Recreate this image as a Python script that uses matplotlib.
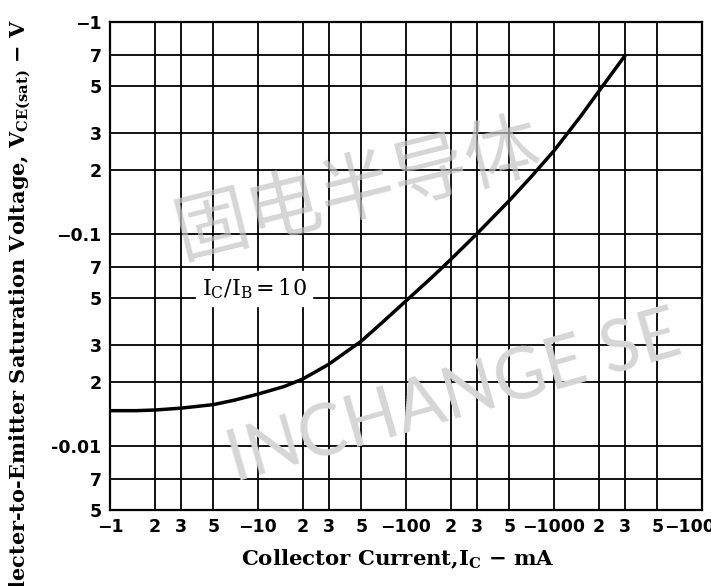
import matplotlib
matplotlib.use("Agg")
import matplotlib.pyplot as plt

# data (collector current in mA, Vce(sat) in V, magnitudes)
ic_ma = [1, 1.5, 2, 3, 5, 7, 10, 15, 20, 30, 50, 70, 100, 150, 200, 300,
         500, 700, 1000, 1500, 2000, 3000]
vce_sat = [0.0147, 0.0147, 0.0148, 0.0151, 0.0157, 0.0165, 0.0176, 0.0191, 0.0207, 0.0243,
           0.0313, 0.0386, 0.0484, 0.0626, 0.0757, 0.100,
           0.144, 0.186, 0.247, 0.356, 0.469, 0.69]

x_ticks = [1, 2, 3, 5, 10, 20, 30, 50, 100, 200, 300, 500, 1000, 2000, 3000, 5000, 10000]
x_labels = ["\u22121", "2", "3", "5", "\u221210", "2", "3", "5", "\u2212100", "2", "3", "5",
            "\u22121000", "2", "3", "5", "\u221210000"]
y_ticks = [0.005, 0.007, 0.01, 0.02, 0.03, 0.05, 0.07, 0.1, 0.2, 0.3, 0.5, 0.7, 1]
y_labels = ["5", "7", "-0.01", "2", "3", "5", "7", "\u22120.1", "2", "3", "5", "7", "\u22121"]

fig = plt.figure(figsize=(7.11, 5.86), dpi=100)
ax = fig.add_axes([0.1547, 0.1297, 0.8326, 0.8328])

ax.set_xscale("log")
ax.set_yscale("log")
ax.set_xlim(1, 10000)
ax.set_ylim(0.005, 1)

ax.set_xticks(x_ticks)
ax.set_xticklabels(x_labels, fontsize=12.5, fontweight="bold", family="DejaVu Sans Condensed")
ax.set_yticks(y_ticks)
ax.set_yticklabels(y_labels, fontsize=12.5, fontweight="bold", family="DejaVu Sans Condensed")
ax.minorticks_off()
ax.tick_params(length=0, pad=6)
ax.grid(True, color="black", linewidth=1.3)

for s in ax.spines.values():
    s.set_linewidth(1.6)

ax.plot(ic_ma, vce_sat, color="black", linewidth=2.5, zorder=3)

ax.text(0.155, 0.44, "I$_\\mathregular{C}$/I$_\\mathregular{B}$$\\,$=$\\,$10", transform=ax.transAxes,
        fontsize=16, family="DejaVu Serif", backgroundcolor="white", zorder=4)

# watermark
fig.text(0.503, 0.674, "\u56fa\u7535\u534a\u5bfc\u4f53", fontsize=54, color="#c4c4c4", alpha=0.7,
         family=["Noto Sans CJK SC", "DejaVu Sans"], rotation=14, ha="center", va="center",
         rotation_mode="anchor", zorder=0)
fig.text(0.330, 0.177, "INCHANGE SE", fontsize=51, color="#d6d6d6",
         family=["Lato", "DejaVu Sans"], rotation=16, ha="left", va="baseline",
         rotation_mode="anchor", zorder=0)

fig.text(0.56, 0.045, "Collector Current,I$_\\mathregular{C}$ \u2212 mA", ha="center", va="center",
         fontsize=15.3, fontweight="bold", family="DejaVu Serif")
fig.text(0.028, 0.449, "Collecter-to-Emitter Saturation Voltage, V$_\\mathregular{CE(sat)}$ \u2212 V",
         ha="center", va="center", rotation=90, fontsize=15, fontweight="bold", family="DejaVu Serif")

fig.savefig("out.png", dpi=100)
